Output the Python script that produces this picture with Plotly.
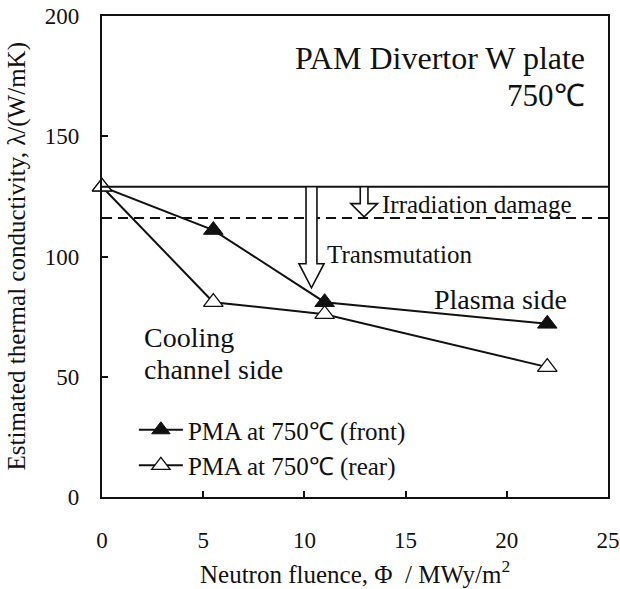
import plotly.graph_objects as go

# ---- data ----
fluence = [0, 5.5, 11, 22]
k_front = [129, 111, 81, 72]
k_rear = [129, 81, 76, 54]
series_names = ["PMA at 750\u2103 (front)", "PMA at 750\u2103 (rear)"]

ref_x = [0, 25]
k_unirradiated = 129
k_irradiation = 116

x_ticks = [0, 5, 10, 15, 20, 25]
y_ticks = [0, 50, 100, 150, 200]

# hollow arrows (data coordinates): centre x, top, neck, tip, shaft half width, head half width
arrow_x = [10.35, 12.95]
arrow_top = [129, 129]
arrow_neck = [97, 122]
arrow_tip = [87, 116.5]
arrow_shaft = [0.27, 0.19]
arrow_head = [0.62, 0.66]

FONT = "Liberation Serif, Times New Roman, serif"
INK = "#111111"

fig = go.Figure()

fig.add_trace(go.Scatter(
    x=fluence, y=k_front, name=series_names[0], mode="lines+markers",
    line=dict(color=INK, width=2),
    marker=dict(symbol="triangle-up", size=17, color=INK, line=dict(color=INK, width=1)),
    cliponaxis=False))
fig.add_trace(go.Scatter(
    x=fluence, y=k_rear, name=series_names[1], mode="lines+markers",
    line=dict(color=INK, width=2),
    marker=dict(symbol="triangle-up", size=17, color="white", line=dict(color=INK, width=1.3)),
    cliponaxis=False))

fig.add_trace(go.Scatter(x=ref_x, y=[k_unirradiated] * 2, mode="lines",
                         line=dict(color=INK, width=2), showlegend=False, hoverinfo="skip"))
fig.add_trace(go.Scatter(x=ref_x, y=[k_irradiation] * 2, mode="lines",
                         line=dict(color=INK, width=2, dash="10px,6px"), showlegend=False, hoverinfo="skip"))

for cx, yt, yn, yp, sw, hw in zip(arrow_x, arrow_top, arrow_neck, arrow_tip, arrow_shaft, arrow_head):
    path = (f"M{cx - sw},{yt} L{cx - sw},{yn} L{cx - hw},{yn} L{cx},{yp} "
            f"L{cx + hw},{yn} L{cx + sw},{yn} L{cx + sw},{yt} Z")
    fig.add_shape(type="path", path=path, xref="x", yref="y",
                  line=dict(color=INK, width=1.6), fillcolor="white", layer="above")

def note(text, x, y, size, xanchor="left", align="left", xref="x", yref="y", angle=0):
    fig.add_annotation(text=text, x=x, y=y, xref=xref, yref=yref, xanchor=xanchor,
                       yanchor="middle", align=align, showarrow=False, textangle=angle,
                       font=dict(family=FONT, size=size, color=INK))

note("PAM Divertor W plate", 23.95, 182.6, 32, xanchor="right", align="right")
note("750\u2103", 23.95, 166.8, 31, xanchor="right", align="right")
note("Irradiation damage", 13.73, 121.6, 25)
note("Transmutation", 11.02, 100.8, 25)
note("Plasma side", 16.3, 82.3, 28)
note("Cooling", 1.98, 66.5, 28)
note("channel side", 1.98, 53.2, 28)

note("Neutron fluence, \u03a6 \u00a0/ MWy/m<sup>2</sup>", 0.5, -0.156, 25,
     xanchor="center", align="center", xref="paper", yref="paper")
note("Estimated thermal conductivity, \u03bb/(W/mK)", -0.168, 0.5, 25,
     xanchor="center", align="center", xref="paper", yref="paper", angle=-90)

axis_common = dict(showline=True, linewidth=2.2, linecolor=INK, mirror=True,
                   ticks="inside", ticklen=6, tickwidth=1.5, tickcolor=INK,
                   showgrid=False, zeroline=False, automargin=False,
                   ticklabeloverflow="allow",
                   tickfont=dict(family=FONT, size=23, color=INK))

fig.update_xaxes(range=[0, 25], tickvals=x_ticks, ticklabelstandoff=21, **axis_common)
fig.update_yaxes(range=[0, 200], tickvals=y_ticks, ticklabelstandoff=16, **axis_common)

fig.update_layout(
    width=620, height=589,
    margin=dict(l=102, r=12, t=16, b=92),
    paper_bgcolor="white", plot_bgcolor="white",
    showlegend=True,
    legend=dict(x=0.063, y=0.187, xanchor="left", yanchor="top",
                bgcolor="rgba(0,0,0,0)", itemwidth=44, tracegroupgap=0,
                font=dict(family=FONT, size=25, color=INK)),
)

# remove the default page margin so the 620x589 figure fills the window exactly
fig.write_html("out.html", config={"displayModeBar": False},
               post_script="document.body.style.margin='0';document.body.style.overflow='hidden';")
